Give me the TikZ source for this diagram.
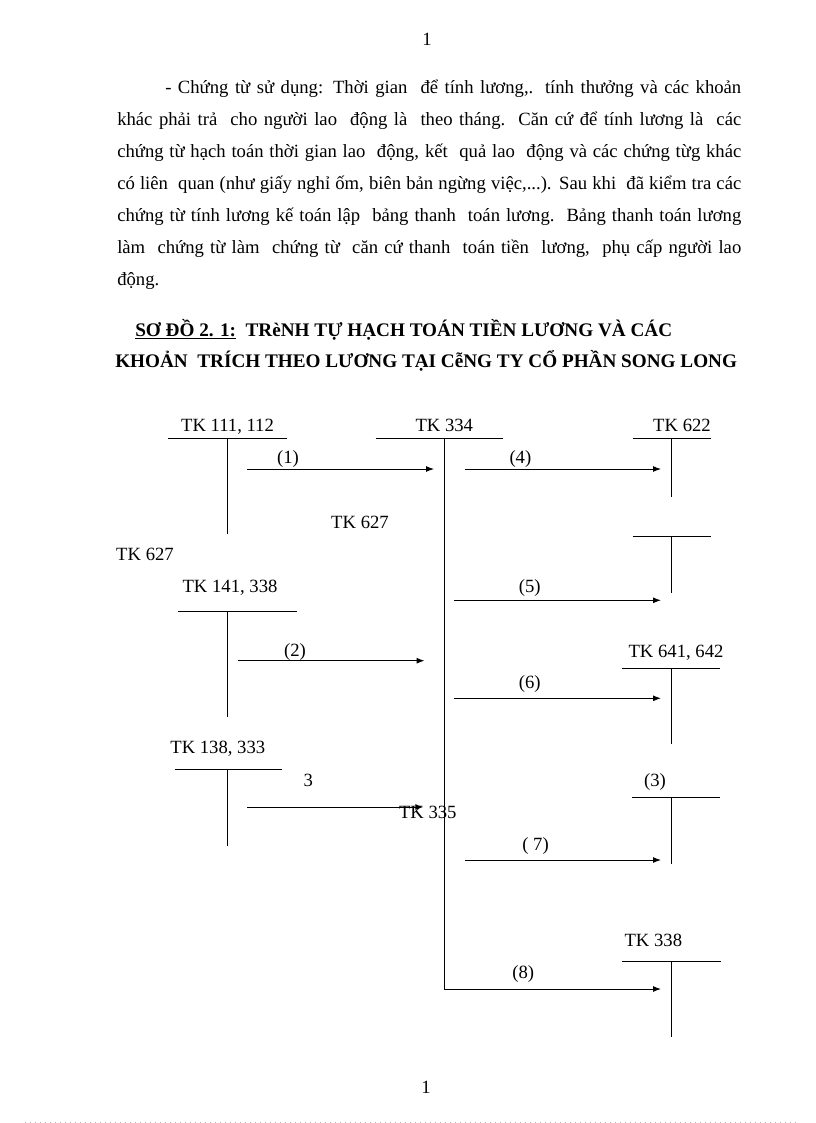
\documentclass[tikz,border=0pt]{standalone}
\usepackage{fontspec}
\setmainfont{Liberation Serif}
\usetikzlibrary{arrows.meta}
\begin{document}
\begin{tikzpicture}[x=0.75pt,y=-0.75pt,
  lbl/.style={font=\fontsize{14}{16}\selectfont, inner sep=0pt},
  tkl/.style={font=\fontsize{14}{16}\selectfont, inner sep=0pt, anchor=base},
  txt/.style={font=\fontsize{14}{16}\selectfont, inner sep=0pt, anchor=base west},
  ttl/.style={font=\fontsize{14.4}{16}\selectfont\bfseries, inner sep=0pt, anchor=base west},
  acct/.style={line width=0.75pt},
  flow/.style={line width=0.75pt,-{Latex[length=6pt,width=4.5pt]}}]
\useasboundingbox (0,0) rectangle (816,1123);

% page numbers
\node[txt,anchor=base] (pgtop) at (427,46) {1};
\node[txt,anchor=base] (pgbot) at (426,1093) {1};

% paragraph
\node[txt] (p1) at (165,94) {\hbox to 432pt{- Chứng từ sử dụng: Thời gian\ \ để tính lương,. tính thưởng và các khoản}};
\node[txt] (p2) at (117,126) {\hbox to 468pt{khác phải trả\ \ cho người lao\ \ động là\ \ theo tháng.\ \ Căn cứ để tính lương là\ \ các}};
\node[txt] (p3) at (117,158) {\hbox to 468pt{chứng từ hạch toán thời gian lao\ \ động, kết\ \ quả lao\ \ động và các chứng từg khác}};
\node[txt] (p4) at (117,190) {\hbox to 468pt{có liên\ \ quan (như giấy nghỉ ốm, biên bản ngừng việc,...). Sau khi\ \ đã kiểm tra các}};
\node[txt] (p5) at (117,221.5) {\hbox to 468pt{chứng từ tính lương kế toán lập\ \ bảng thanh\ \ toán lương.\ \ Bảng thanh toán lương}};
\node[txt] (p6) at (117,253.5) {\hbox to 468pt{làm\ \ chứng từ làm\ \ chứng từ\ \ căn cứ thanh\ \ toán tiền\ \ lương,\ \ phụ cấp người lao}};
\node[txt] (p7) at (117,285.5) {động.};

% title
\node[ttl] (t1) at (135,336) {\underline{SƠ ĐỒ 2. 1:}\ \ TRèNH TỰ HẠCH TOÁN TIỀN LƯƠNG VÀ CÁC};
\node[ttl] (t2) at (115,367) {KHOẢN\ \ TRÍCH THEO LƯƠNG TẠI CễNG TY CỔ PHẦN SONG LONG};

% T-accounts: labels
\node[tkl] (lA) at (227.5,431) {TK 111, 112};
\node[tkl] (lB) at (444.3,431) {TK 334};
\node[tkl] (lC) at (682,431) {TK 622};
\node[tkl] (lE) at (230,592.7) {TK 141, 338};
\node[tkl] (lF) at (676,657.7) {TK 641, 642};
\node[tkl] (lG) at (217.8,753.3) {TK 138, 333};
\node[lbl] (lH) at (655,781.7) {(3)};
\node[tkl] (lI) at (653.3,946.7) {TK 338};

% T-account lines
\coordinate (A1) at (168,438.3); \coordinate (A2) at (287,438.3);
\coordinate (At) at (227.7,438.3); \coordinate (Ab) at (227.7,534.3);
\draw[acct] (A1) -- (A2); \draw[acct] (At) -- (Ab);

\coordinate (B1) at (375.5,438.3); \coordinate (B2) at (503.3,438.3);
\coordinate (Bt) at (444.3,438.3); \coordinate (Bb) at (444.3,989);
\draw[acct] (B1) -- (B2); \draw[acct] (Bt) -- (Bb);

\coordinate (C1) at (632.7,438.3); \coordinate (C2) at (711,438.3);
\coordinate (Ct) at (671.5,438.3); \coordinate (Cb) at (671.5,496.7);
\draw[acct] (C1) -- (C2); \draw[acct] (Ct) -- (Cb);

\coordinate (D1) at (632.7,536); \coordinate (D2) at (711,536);
\coordinate (Dt) at (671.5,536); \coordinate (Db) at (671.5,593.3);
\draw[acct] (D1) -- (D2); \draw[acct] (Dt) -- (Db);

\coordinate (E1) at (178.4,611); \coordinate (E2) at (297,611);
\coordinate (Et) at (227.8,611); \coordinate (Eb) at (227.8,716.7);
\draw[acct] (E1) -- (E2); \draw[acct] (Et) -- (Eb);

\coordinate (F1) at (621.6,668.3); \coordinate (F2) at (720.4,668.3);
\coordinate (Ft) at (671.5,668.3); \coordinate (Fb) at (671.5,744.3);
\draw[acct] (F1) -- (F2); \draw[acct] (Ft) -- (Fb);

\coordinate (G1) at (174.7,769.3); \coordinate (G2) at (282.4,769.3);
\coordinate (Gt) at (227.8,769.3); \coordinate (Gb) at (227.8,845.7);
\draw[acct] (G1) -- (G2); \draw[acct] (Gt) -- (Gb);

\coordinate (H1) at (632.3,797.3); \coordinate (H2) at (720,797.3);
\coordinate (Ht) at (671.7,797.3); \coordinate (Hb) at (671.7,864);
\draw[acct] (H1) -- (H2); \draw[acct] (Ht) -- (Hb);

\coordinate (I1) at (621.7,961); \coordinate (I2) at (720.7,961);
\coordinate (It) at (671.7,961); \coordinate (Ib) at (671.7,1037.3);
\draw[acct] (I1) -- (I2); \draw[acct] (It) -- (Ib);

% floating labels
\node[tkl] (m627) at (360,528.7) {TK 627};
\node[tkl] (l627) at (145,560) {TK 627};
\node[tkl] (n3) at (308.2,786.7) {3};

% arrows
\coordinate (a1s) at (247,469);   \coordinate (a1e) at (434,469);
\coordinate (a4s) at (464.5,469); \coordinate (a4e) at (661,469);
\coordinate (a5s) at (454.3,600.3); \coordinate (a5e) at (661,600.3);
\coordinate (a2s) at (237.6,660.7); \coordinate (a2e) at (424.5,660.7);
\coordinate (a6s) at (454.3,698.3); \coordinate (a6e) at (661,698.3);
\coordinate (a3s) at (247,807);   \coordinate (a3e) at (423.3,807);
\coordinate (a7s) at (465,860);   \coordinate (a7e) at (661,860);
\coordinate (a8e) at (661,989);
\draw[flow] (a1s) -- (a1e);
\draw[flow] (a4s) -- (a4e);
\draw[flow] (a5s) -- (a5e);
\draw[flow] (a2s) -- (a2e);
\draw[flow] (a6s) -- (a6e);
\draw[flow] (a3s) -- (a3e);
\draw[flow] (a7s) -- (a7e);
\draw[flow] (Bb) -- (a8e);

\node[lbl] (k1) at (288,459.3) {(1)};
\node[lbl] (k4) at (520.4,459.3) {(4)};
\node[lbl] (k5) at (529.8,587.7) {(5)};
\node[lbl] (k2) at (295,652.3) {(2)};
\node[lbl] (k6) at (529.8,684.3) {(6)};
\node[lbl] (k7) at (535.5,846) {( 7)};
\node[lbl] (k8) at (523.3,974) {(8)};

\node[tkl] (l335) at (427.8,818.3) {TK 335};

% bottom dotted rule
\coordinate (dl) at (25,1122.3); \coordinate (dr) at (800,1122.3);
\draw[gray!60, line width=0.75pt, dash pattern=on 0.75pt off 3pt] (dl) -- (dr);
\end{tikzpicture}
\end{document}
